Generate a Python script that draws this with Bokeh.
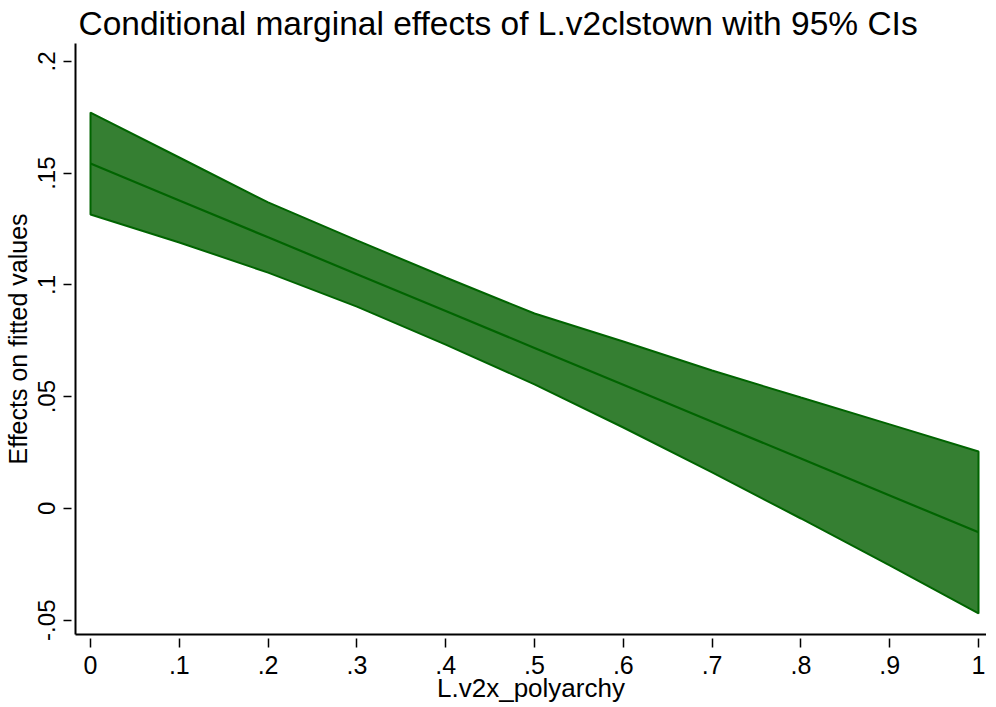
from bokeh.plotting import figure
from bokeh.models import FixedTicker, Range1d
from bokeh.embed import file_html
from bokeh.resources import INLINE

# data
x_vals = [0.0, 0.1, 0.2, 0.3, 0.4, 0.5, 0.6, 0.7, 0.8, 0.9, 1.0]
effect = [0.1543, 0.1378, 0.1213, 0.1048, 0.0883, 0.0718, 0.0553, 0.0388, 0.0223, 0.0058, -0.0107]
upper = [0.1771, 0.1570, 0.1369, 0.1199, 0.1033, 0.0872, 0.0747, 0.0617, 0.0496, 0.0376, 0.0255]
lower = [0.1315, 0.1190, 0.1055, 0.0903, 0.0733, 0.0555, 0.0362, 0.0161, -0.0045, -0.0255, -0.0470]

x_ticks = [0, 0.1, 0.2, 0.3, 0.4, 0.5, 0.6, 0.7, 0.8, 0.9, 1]
x_tick_labels = ["0", ".1", ".2", ".3", ".4", ".5", ".6", ".7", ".8", ".9", "1"]
y_ticks = [-0.05, 0, 0.05, 0.1, 0.15, 0.2]
y_tick_labels = ["-.05", "0", ".05", ".1", ".15", ".2"]

title = "Conditional marginal effects of L.v2clstown with 95% CIs"
x_label = "L.v2x_polyarchy"
y_label = "Effects on fitted values"

FONT = "Liberation Sans"
FILL = "#357f32"
EDGE = "#006400"

p = figure(
    frame_width=911, frame_height=591,
    output_backend="svg", toolbar_location=None,
    x_range=Range1d(-0.0169, 1.009), y_range=Range1d(-0.0564, 0.208),
    min_border_left=69, min_border_right=0, min_border_top=0, min_border_bottom=0,
    title=title,
)
p.outline_line_color = None
p.background_fill_color = "white"
p.border_fill_color = "white"
p.xgrid.visible = False
p.ygrid.visible = False

p.title.text_font = FONT
p.title.text_font_size = "33.5px"
p.title.text_font_style = "normal"
p.title.text_color = "black"
p.title.align = "left"
p.title.offset = 3
p.title.standoff = 4

# band
xs_poly = x_vals + x_vals[::-1]
ys_poly = upper + lower[::-1]
p.patch(xs_poly, ys_poly, fill_color=FILL, line_color=EDGE, line_width=2)
p.line(x_vals, effect, line_color=EDGE, line_width=2.2)

for ax in (p.xaxis[0], p.yaxis[0]):
    ax.axis_line_color = "black"
    ax.axis_line_width = 2
    ax.major_tick_line_color = "black"
    ax.major_tick_line_width = 1.5
    ax.minor_tick_line_color = None
    ax.major_label_text_font = FONT
    ax.major_label_text_font_size = "25px"
    ax.major_label_text_color = "black"
    ax.axis_label_text_font = FONT
    ax.axis_label_text_font_style = "normal"
    ax.axis_label_text_color = "black"
    ax.major_tick_in = -4

p.xaxis[0].ticker = FixedTicker(ticks=x_ticks)
p.xaxis[0].major_label_overrides = {t: l for t, l in zip(x_ticks, x_tick_labels)}
p.xaxis[0].major_tick_out = 13
p.xaxis[0].major_label_standoff = 8
p.xaxis[0].axis_label = x_label
p.xaxis[0].axis_label_text_font_size = "26px"
p.xaxis[0].axis_label_standoff = -4

p.yaxis[0].ticker = FixedTicker(ticks=y_ticks)
p.yaxis[0].major_label_overrides = {t: l for t, l in zip(y_ticks, y_tick_labels)}
p.yaxis[0].major_label_orientation = "vertical"
p.yaxis[0].major_label_text_font_size = "24px"
p.yaxis[0].major_tick_out = 12
p.yaxis[0].major_label_standoff = 8
p.yaxis[0].axis_label = y_label
p.yaxis[0].axis_label_text_font_size = "25px"
p.yaxis[0].axis_label_standoff = 4

open("out.html", "w").write(file_html(p, INLINE))
